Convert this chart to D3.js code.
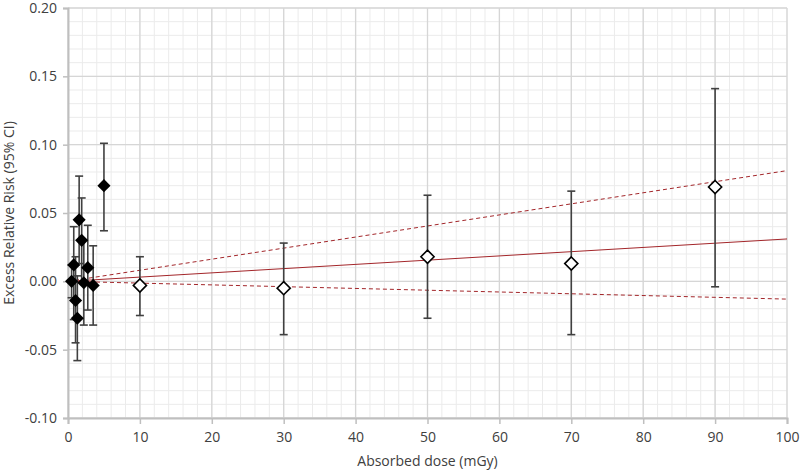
<!DOCTYPE html>
<html>
<head>
<meta charset="utf-8">
<script src="https://cdn.jsdelivr.net/npm/d3@7"></script>
<style>
  body { margin: 0; background: #fff; }
  text { font-family: "Open Sans", sans-serif; fill: #404040; }
</style>
</head>
<body>
<svg id="chart"></svg>
<script>
// low-dose groups (filled diamonds)
const lowDose = [0.5, 0.8, 1.05, 1.3, 1.55, 1.9, 2.2, 2.75, 3.5, 5];
const lowErr  = [0.000, 0.012, -0.014, -0.027, 0.045, 0.030, -0.001, 0.010, -0.003, 0.070];
const lowLo   = [-0.012, -0.028, -0.045, -0.058, 0.013, -0.001, -0.032, -0.021, -0.032, 0.037];
const lowHi   = [0.012, 0.040, 0.018, 0.004, 0.077, 0.061, 0.030, 0.041, 0.026, 0.101];

// dose bands (open diamonds)
const bandDose = [10, 30, 50, 70, 90];
const bandErr  = [-0.003, -0.005, 0.018, 0.013, 0.069];
const bandLo   = [-0.025, -0.039, -0.027, -0.039, -0.004];
const bandHi   = [0.018, 0.028, 0.063, 0.066, 0.141];

// fitted linear ERR per mGy and its CI
const fitDose = [0, 100];
const fitSlope = 0.00031;
const fitSlopeLo = -0.00013;
const fitSlopeHi = 0.00081;

const xTicks = [0, 10, 20, 30, 40, 50, 60, 70, 80, 90, 100];
const yTicks = [-0.10, -0.05, 0.00, 0.05, 0.10, 0.15, 0.20];

const width = 800, height = 473;
const margin = { top: 8, right: 13, bottom: 55, left: 68 };
const w = width - margin.left - margin.right;
const h = height - margin.top - margin.bottom;

const svg = d3.select('#chart').attr('width', width).attr('height', height);
const g = svg.append('g').attr('transform', `translate(${margin.left},${margin.top})`);

const x = d3.scaleLinear().domain([0, 100]).range([0, w]);
const y = d3.scaleLinear().domain([-0.10, 0.20]).range([h, 0]);

// minor grid
g.append('g').selectAll('line').data(d3.range(0, 101, 2)).join('line')
  .attr('x1', d => x(d)).attr('x2', d => x(d)).attr('y1', 0).attr('y2', h)
  .attr('stroke', '#ebebeb').attr('stroke-width', 1);
g.append('g').selectAll('line').data(d3.range(-10, 21, 1).map(d => d / 100)).join('line')
  .attr('y1', d => y(d)).attr('y2', d => y(d)).attr('x1', 0).attr('x2', w)
  .attr('stroke', '#ebebeb').attr('stroke-width', 1);

// major grid
g.append('g').selectAll('line').data(xTicks).join('line')
  .attr('x1', d => x(d)).attr('x2', d => x(d)).attr('y1', 0).attr('y2', h)
  .attr('stroke', '#d6d6d6').attr('stroke-width', 1.3);
g.append('g').selectAll('line').data(yTicks).join('line')
  .attr('y1', d => y(d)).attr('y2', d => y(d)).attr('x1', 0).attr('x2', w)
  .attr('stroke', '#d6d6d6').attr('stroke-width', 1.3);

// axes
const xAxis = g.append('g').attr('transform', `translate(0,${h})`)
  .call(d3.axisBottom(x).tickValues(xTicks).tickSize(6).tickPadding(8).tickFormat(d3.format('d')));
const yAxis = g.append('g')
  .call(d3.axisLeft(y).tickValues(yTicks).tickSize(5).tickPadding(6).tickFormat(d3.format('.2f')));
[xAxis, yAxis].forEach(a => {
  a.select('.domain').attr('stroke', '#bfbfbf').attr('stroke-width', 2);
  a.selectAll('.tick line').attr('stroke', '#bfbfbf').attr('stroke-width', 1.5);
  a.selectAll('.tick text').style('font-size', '14px').attr('fill', '#404040');
});
yAxis.selectAll('.tick text').text(d => d3.format('.2f')(d).replace('−', '-'));

// fitted lines
const red = '#a3262a';
const fits = [
  { slope: fitSlope, dash: null },
  { slope: fitSlopeHi, dash: '4,3' },
  { slope: fitSlopeLo, dash: '4,3' }
];
const line = d3.line().x(d => x(d[0])).y(d => y(d[1]));
fits.forEach(f => {
  g.append('path')
    .datum(fitDose.map(d => [d, d * f.slope]))
    .attr('fill', 'none').attr('stroke', red).attr('stroke-width', 1)
    .attr('stroke-dasharray', f.dash)
    .attr('d', line);
});

// error bars
function errorBars(dose, lo, hi) {
  const eb = g.append('g').attr('stroke', '#404040').attr('stroke-width', 1.6);
  dose.forEach((d, i) => {
    eb.append('line').attr('x1', x(d)).attr('x2', x(d)).attr('y1', y(lo[i])).attr('y2', y(hi[i]));
    [lo[i], hi[i]].forEach(v => {
      eb.append('line').attr('x1', x(d) - 4).attr('x2', x(d) + 4).attr('y1', y(v)).attr('y2', y(v));
    });
  });
}
errorBars(bandDose, bandLo, bandHi);
errorBars(lowDose, lowLo, lowHi);

const diamond = d3.symbol().type(d3.symbolDiamond2).size(110);

g.append('g').selectAll('path').data(bandDose).join('path')
  .attr('transform', (d, i) => `translate(${x(d)},${y(bandErr[i])})`)
  .attr('d', diamond).attr('fill', '#fff').attr('stroke', '#000').attr('stroke-width', 1.6);

g.append('g').selectAll('path').data(lowDose).join('path')
  .attr('transform', (d, i) => `translate(${x(d)},${y(lowErr[i])})`)
  .attr('d', diamond).attr('fill', '#000');

// axis titles
svg.append('text')
  .attr('x', margin.left + w / 2).attr('y', 466)
  .attr('text-anchor', 'middle').style('font-size', '14px')
  .text('Absorbed dose (mGy)');
svg.append('text')
  .attr('transform', `translate(14,${margin.top + h / 2}) rotate(-90)`)
  .attr('text-anchor', 'middle').style('font-size', '14px')
  .text('Excess Relative Risk (95% CI)');
</script>
</body>
</html>
